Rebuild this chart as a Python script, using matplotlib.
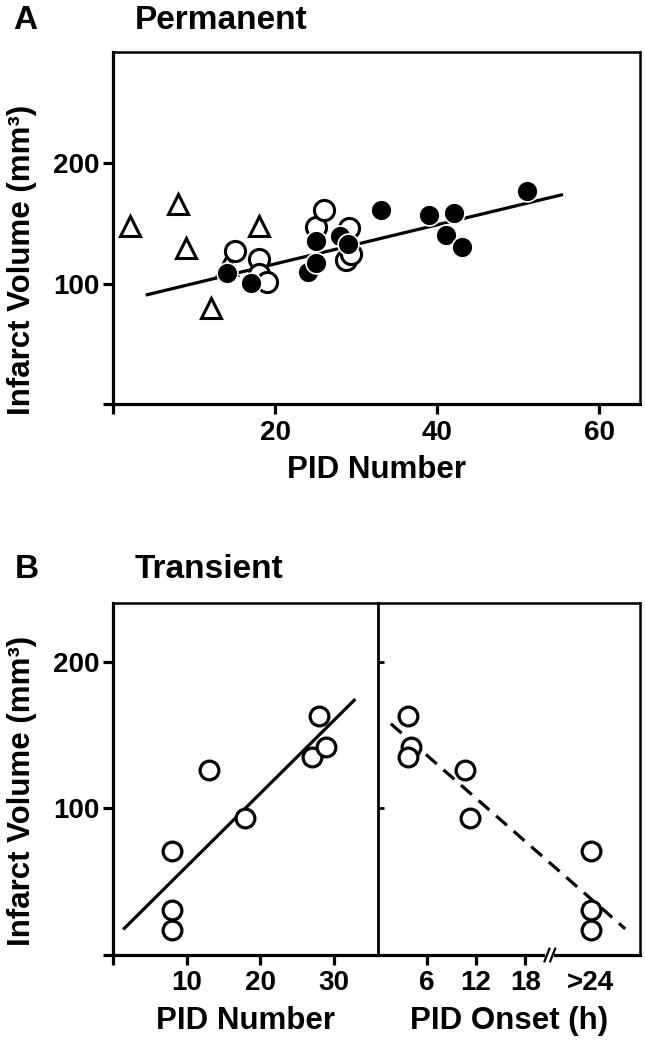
import matplotlib
matplotlib.use("Agg")
import matplotlib.pyplot as plt
import matplotlib.transforms as mtransforms
import numpy as np

plt.rcParams['font.family'] = ['Liberation Sans', 'DejaVu Sans']
plt.rcParams['font.weight'] = 'bold'

# ---------------- data: panel A (Permanent) ----------------
tri_x = [2, 8, 9, 12, 14, 18]
tri_y = [148, 166, 130, 80, 116, 148]
open_x = [15, 18, 18, 19, 25, 26, 28.7, 29.3, 29.1]
open_y = [127, 121, 108, 102, 147, 161, 120, 125, 146]
fill_x = [14, 17, 24, 25, 25, 28, 29, 33, 39, 41, 42, 43, 51]
fill_y = [109, 101, 110, 117, 136, 140, 133, 161, 157.5, 141, 158.5, 131, 177.5]
fitA_slope, fitA_icpt = 1.62, 84.3
fitA_xrange = [4, 55.5]

# ---------------- data: panel B (Transient) ----------------
bnum_x = [8, 8, 8, 13, 18, 27, 28, 29]
bnum_y = [71, 31, 17, 126, 93.5, 135, 163, 141.5]
fitB1_slope, fitB1_icpt = 4.97, 10.7
fitB1_xrange = [1.5, 32.8]

bon_x = [3.7, 4.1, 3.7, 10.7, 11.3, 26, 26, 26]
bon_y = [163, 141.5, 135, 126, 93.5, 71, 31, 17]
fitB2_slope, fitB2_icpt = -4.89, 165.5
fitB2_xrange = [1.6, 30.2]

A_xticks = [0, 20, 40, 60]
A_xlabels = ['', '20', '40', '60']
A_yticks = [0, 100, 200]
A_ylabels = ['', '100', '200']
B1_xticks = [0, 10, 20, 30]
B1_xlabels = ['', '10', '20', '30']
B2_xticks = [6, 12, 18, 26]
B2_xlabels = ['6', '12', '18', '>24']

W, H = 645, 1050
fig = plt.figure(figsize=(W / 100, H / 100), dpi=100)

def px_rect(x0, x1, ytop, ybot):
    return [x0 / W, 1 - ybot / H, (x1 - x0) / W, (ybot - ytop) / H]

TICK_FS = 20
LAB_FS = 22.5
SPW = 2.3

def style(ax):
    for s in ['left', 'bottom']:
        ax.spines[s].set_linewidth(SPW)
    for s in ['top', 'right']:
        ax.spines[s].set_linewidth(1.8)
    ax.tick_params(direction='out', length=7, width=SPW, labelsize=TICK_FS)
    ax.tick_params(axis='x', pad=4)
    ax.tick_params(axis='y', pad=3)
    for lab in ax.get_xticklabels() + ax.get_yticklabels():
        lab.set_fontweight('bold')

YLAB = 'Infarct Volume (mm\u00b3)'

# ---------------- Panel A ----------------
axA = fig.add_axes(px_rect(113.3, 640, 52.5, 404.5))
axA.set_xlim(0, 65)
axA.set_ylim(0, 292)
xx = np.array(fitA_xrange)
axA.plot(xx, fitA_slope * xx + fitA_icpt, color='black', lw=2.3, zorder=2,
         solid_capstyle='butt')
axA.plot(tri_x, tri_y, linestyle='none', marker='^', ms=15, mfc='white',
         mec='black', mew=2.2, zorder=3)
axA.plot(open_x, open_y, linestyle='none', marker='o', ms=14.5, mfc='white',
         mec='black', mew=2.2, zorder=4)
axA.plot(fill_x, fill_y, linestyle='none', marker='o', ms=15, mfc='black',
         mec='white', mew=1.2, zorder=5)
axA.set_xticks(A_xticks)
axA.set_xticklabels(A_xlabels)
axA.set_yticks(A_yticks)
axA.set_yticklabels(A_ylabels)
style(axA)
axA.set_xlabel('PID Number', fontsize=LAB_FS, fontweight='bold', labelpad=7)
axA.set_ylabel(YLAB, fontsize=LAB_FS, fontweight='bold')
axA.yaxis.set_label_coords((37 - 113.3) / 526.7, 0.41)

# ---------------- Panel B left ----------------
axB1 = fig.add_axes(px_rect(113.3, 377.7, 603, 955))
axB1.set_xlim(0, 36)
axB1.set_ylim(0, 240)
xx = np.array(fitB1_xrange)
axB1.plot(xx, fitB1_slope * xx + fitB1_icpt, color='black', lw=2.3, zorder=2)
axB1.plot(bnum_x, bnum_y, linestyle='none', marker='o', ms=13.5, mfc='white',
          mec='black', mew=2.3, zorder=3)
axB1.set_xticks(B1_xticks)
axB1.set_xticklabels(B1_xlabels)
axB1.set_yticks(A_yticks)
axB1.set_yticklabels(A_ylabels)
style(axB1)
axB1.spines['right'].set_linewidth(2.0)
axB1.spines['right'].set_zorder(20)
axB1.set_xlabel('PID Number', fontsize=LAB_FS, fontweight='bold', labelpad=7)
axB1.set_ylabel(YLAB, fontsize=LAB_FS, fontweight='bold')
axB1.yaxis.set_label_coords((37 - 113.3) / 264.4, 0.465)

# ---------------- Panel B right ----------------
axB2 = fig.add_axes(px_rect(377.7, 640, 603, 955))
axB2.patch.set_visible(False)
axB2.set_xlim(0, 32)
axB2.set_ylim(0, 240)
xx = np.array(fitB2_xrange)
axB2.plot(xx, fitB2_slope * xx + fitB2_icpt, color='black', lw=2.3,
          linestyle=(0, (4.5, 2.8)), zorder=2)
axB2.plot(bon_x, bon_y, linestyle='none', marker='o', ms=13.5, mfc='white',
          mec='black', mew=2.3, zorder=3)
axB2.set_xticks(B2_xticks)
axB2.set_xticklabels(B2_xlabels)
axB2.set_yticks(A_yticks)
axB2.set_yticklabels(['', '', ''])
style(axB2)
axB2.spines['left'].set_visible(False)
axB2.tick_params(axis='y', direction='in', length=4, width=2.0)
axB2.yaxis.get_major_ticks()[0].tick1line.set_visible(False)
axB2.xaxis.get_major_ticks()[-1].tick1line.set_visible(False)
axB2.set_xlabel('PID Onset (h)', fontsize=LAB_FS, fontweight='bold', labelpad=7)

# axis break marks on the bottom axis
trans = mtransforms.blended_transform_factory(axB2.transData, axB2.transAxes)
bx = 21.0
axB2.plot([bx - 0.55, bx + 0.55], [0, 0], color='white', lw=4, transform=trans,
          clip_on=False, zorder=10, solid_capstyle='butt')
for dx in (-0.35, 0.35):
    axB2.plot([bx + dx - 0.3, bx + dx + 0.3], [-0.018, 0.018], color='black',
              lw=1.6, transform=trans, clip_on=False, zorder=11)

# ---------------- panel titles ----------------
fig.text(13 / W, 1 - 29 / H, 'A', fontsize=24, fontweight='bold', va='baseline')
fig.text(135 / W, 1 - 29 / H, 'Permanent', fontsize=24, fontweight='bold', va='baseline')
fig.text(15 / W, 1 - 578 / H, 'B', fontsize=24, fontweight='bold', va='baseline')
fig.text(135 / W, 1 - 578 / H, 'Transient', fontsize=24, fontweight='bold', va='baseline')

fig.savefig('out.png', dpi=100)
